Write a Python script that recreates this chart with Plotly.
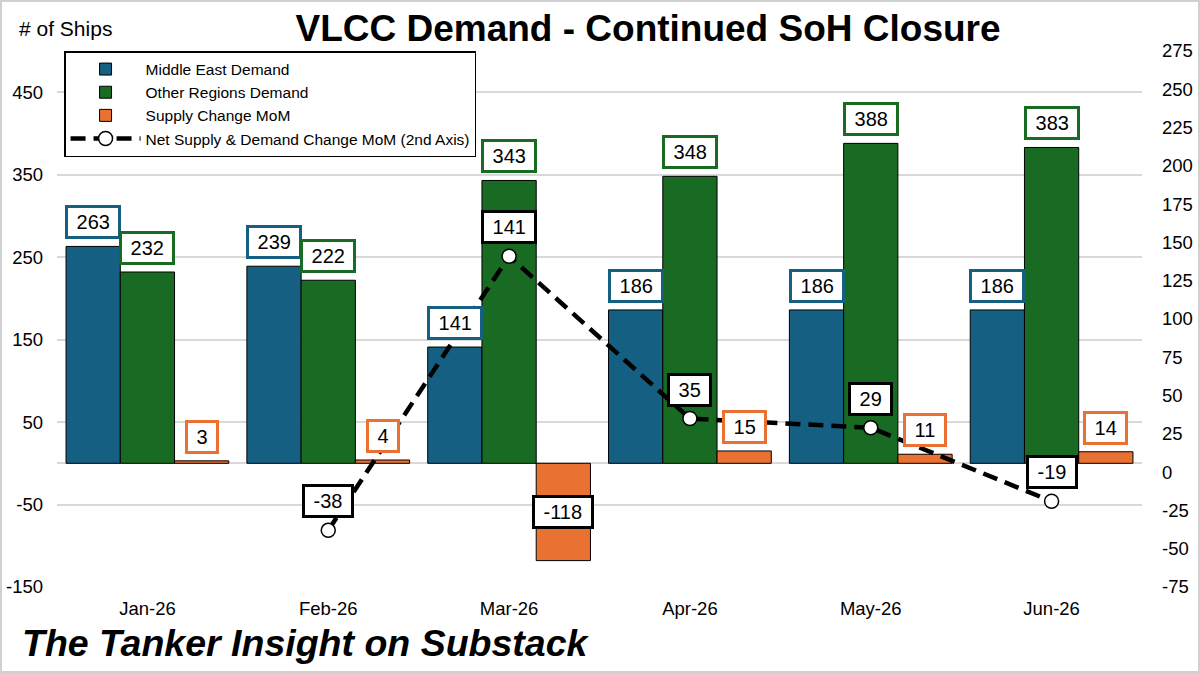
import plotly.graph_objects as go

# Values (# of ships)
months = ["Jan-26", "Feb-26", "Mar-26", "Apr-26", "May-26", "Jun-26"]
middle_east = [263, 239, 141, 186, 186, 186]
other_regions = [232, 222, 343, 348, 388, 383]
supply_change = [3, 4, -118, 15, 11, 14]
net_change = [None, -38, 141, 35, 29, -19]  # 2nd axis

left_ticks = [-150, -50, 50, 150, 250, 350, 450]
right_ticks = [-75, -50, -25, 0, 25, 50, 75, 100, 125, 150, 175, 200, 225, 250, 275]

_BLUE = "#156082"
_GREEN = "#196B24"
_ORANGE = "#E97132"
_INK = "#000000"
_GRID = "#d9d9d9"
_FONT = "Arial, Liberation Sans, sans-serif"

W, H = 1200, 673
M = {"l": 57, "r": 58, "t": 51, "b": 86}
NBSP = "\u00a0"
BAR_SLOT = 0.3  # 0.9 group width / 3 bars

x = list(range(len(months)))

fig = go.Figure()

bar_series = [
    ("Middle East Demand", middle_east, _BLUE),
    ("Other Regions Demand", other_regions, _GREEN),
    ("Supply Change MoM", supply_change, _ORANGE),
]
for name, values, color in bar_series:
    fig.add_trace(
        go.Bar(
            x=x,
            y=values,
            name=name,
            marker={"color": color, "line": {"color": _INK, "width": 1}},
            hoverinfo="skip",
        )
    )

fig.add_trace(
    go.Scatter(
        x=x,
        y=net_change,
        yaxis="y2",
        name="Net Supply & Demand Change MoM (2nd Axis)",
        mode="lines+markers",
        line={"color": _INK, "width": 4.5, "dash": "15px,8px"},
        marker={"symbol": "circle", "size": 14, "color": "white",
                "line": {"color": _INK, "width": 1.5}},
        connectgaps=False,
        hoverinfo="skip",
    )
)


def _box(text, xpos, ypos, border, yref="y", anchor="bottom", shift=7):
    return dict(
        x=xpos,
        y=ypos,
        xref="x",
        yref=yref,
        text=f"{NBSP}{text}{NBSP}",
        showarrow=False,
        xanchor="center",
        yanchor=anchor,
        yshift=shift,
        font={"family": _FONT, "size": 20, "color": _INK},
        bgcolor="white",
        bordercolor=border,
        borderwidth=3,
        borderpad=3,
    )


annotations = []
for k, (name, values, color) in enumerate(bar_series):
    for i, v in enumerate(values):
        xpos = i + (k - 1) * BAR_SLOT
        if v < 0:
            annotations.append(_box(v, xpos, v / 2, _INK, anchor="middle", shift=0))
        else:
            annotations.append(_box(v, xpos, v, color))

for i, v in enumerate(net_change):
    if v is None:
        continue
    annotations.append(_box(v, i, v, _INK, yref="y2", shift=12))

annotations.append(
    dict(
        x=0, y=1, xref="paper", yref="paper",
        xanchor="left", yanchor="middle", xshift=-40, yshift=23,
        text="# of Ships", showarrow=False,
        font={"family": _FONT, "size": 21, "color": _INK},
    )
)
annotations.append(
    dict(
        x=0, y=0, xref="paper", yref="paper",
        xanchor="left", yanchor="middle", xshift=-37, yshift=-56,
        text="<b><i>The Tanker Insight on Substack</i></b>", showarrow=False,
        font={"family": _FONT, "size": 37.5, "color": _INK},
    )
)

pw = W - M["l"] - M["r"]
ph = H - M["t"] - M["b"]
frame = dict(
    type="rect", xref="paper", yref="paper",
    x0=-(M["l"] - 1) / pw, x1=1 + (M["r"] - 1) / pw,
    y0=-(M["b"] - 1) / ph, y1=1 + (M["t"] - 1) / ph,
    line={"color": "#d0d0d0", "width": 2}, fillcolor="rgba(0,0,0,0)",
    layer="below",
)

fig.update_layout(
    width=W,
    height=H,
    margin=M,
    paper_bgcolor="white",
    plot_bgcolor="white",
    barmode="group",
    bargap=0.1,
    bargroupgap=0,
    font={"family": _FONT, "color": _INK},
    title={
        "text": "<b>VLCC Demand - Continued SoH Closure</b>",
        "x": 0.54,
        "xref": "container",
        "xanchor": "center",
        "y": 0.958,
        "yref": "container",
        "yanchor": "middle",
        "font": {"family": _FONT, "size": 37, "color": _INK},
    },
    xaxis={
        "range": [-0.5, len(months) - 0.5],
        "tickvals": x,
        "ticktext": months,
        "tickfont": {"size": 18.5, "color": _INK},
        "showgrid": False,
        "zeroline": False,
        "showline": False,
        "ticks": "",
        "ticklabelstandoff": 8,
        "automargin": False,
    },
    yaxis={
        "range": [-150, 500],
        "tickvals": left_ticks,
        "ticktext": [str(v) for v in left_ticks],
        "tickfont": {"size": 18.5, "color": _INK},
        "showgrid": True,
        "gridcolor": _GRID,
        "gridwidth": 1.5,
        "zeroline": True,
        "zerolinecolor": _GRID,
        "zerolinewidth": 1.5,
        "showline": False,
        "ticks": "",
        "ticklabelstandoff": 13,
        "automargin": False,
    },
    yaxis2={
        "range": [-75, 275],
        "tickvals": right_ticks,
        "ticktext": [str(v) for v in right_ticks],
        "overlaying": "y",
        "side": "right",
        "tickfont": {"size": 18.5, "color": _INK},
        "showgrid": False,
        "zeroline": False,
        "showline": False,
        "ticks": "",
        "ticklabelstandoff": 19,
        "automargin": False,
    },
    legend={
        "x": 0.0065,
        "y": 1.0,
        "xanchor": "left",
        "yanchor": "top",
        "bgcolor": "white",
        "bordercolor": _INK,
        "borderwidth": 1.5,
        "font": {"family": _FONT, "size": 15.5, "color": _INK},
        "itemwidth": 70,
        "tracegroupgap": 0,
    },
    shapes=[frame],
    annotations=annotations,
)

fig.write_html(
    "out.html",
    config={"displayModeBar": False},
    post_script="document.body.style.margin='0';",
)
